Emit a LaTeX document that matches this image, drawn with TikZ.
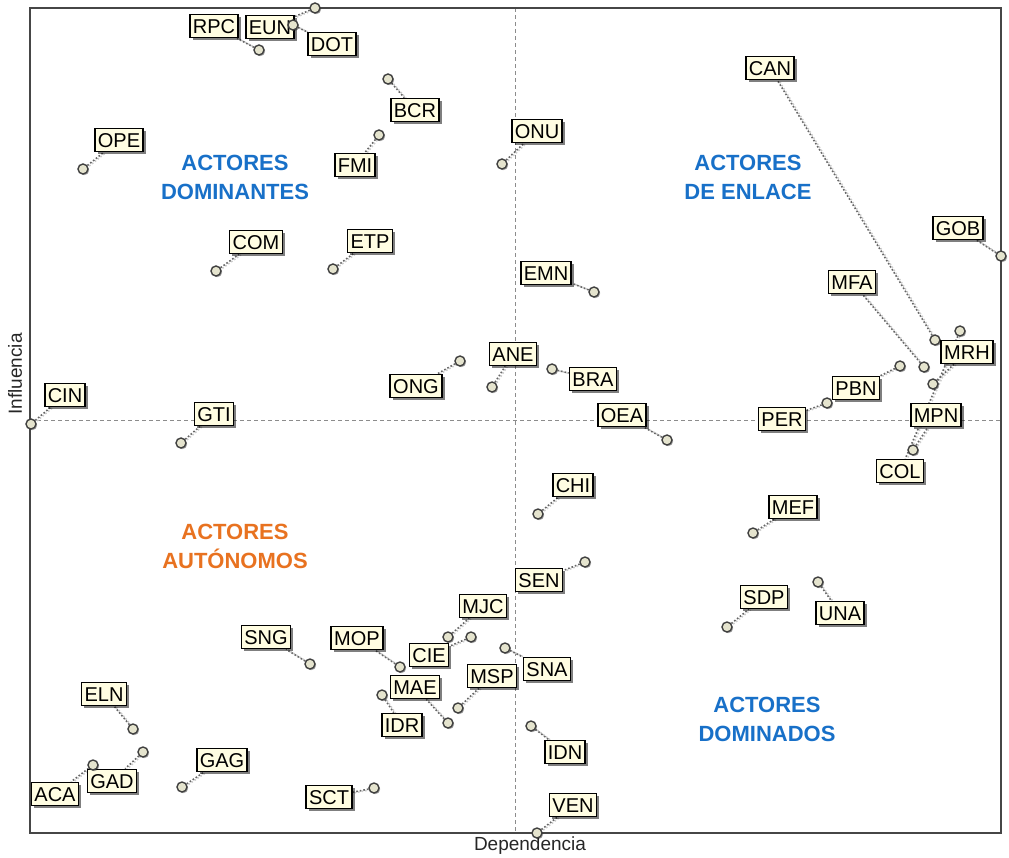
\documentclass[tikz,border=0pt]{standalone}
\usepackage{fontspec}
\setmainfont{Liberation Sans}
\usetikzlibrary{shadows}

\definecolor{cream}{RGB}{255,253,226}
\definecolor{zoneblue}{RGB}{24,112,200}
\definecolor{zoneorange}{RGB}{232,114,32}
\definecolor{framegray}{RGB}{70,70,70}

\pgfdeclarelayer{bg}
\pgfsetlayers{bg,main}

\tikzset{
  % ----- label of an actor
  actor/.style={
    draw=black, line width=0.8pt, fill=cream,
    inner xsep=1.5pt, inner ysep=1.75pt,
    text height=7.5pt, text depth=0.5pt,
    font=\fontsize{10}{12}\selectfont,
    drop shadow={shadow xshift=1.4pt, shadow yshift=-1.4pt, fill=black, opacity=0.5}
  },
  % ----- position of an actor
  spot/.style={
    circle, draw=black!75, line width=0.7pt, fill=cream!80!gray,
    inner sep=0pt, minimum size=5pt,
    drop shadow={shadow xshift=0.6pt, shadow yshift=-0.6pt, fill=black, opacity=0.35}
  },
  lead/.style = {densely dotted, line width=0.8pt, black!60,
    preaction={draw=black!20, densely dotted, line width=0.8pt,
      transform canvas={xshift=0.9pt, yshift=-0.3pt}}},
  axisline/.style = {dash pattern=on 2pt off 1.5pt, line width=0.5pt, black!45},
  zone/.style = {align=center, font=\fontsize{11}{14.5}\selectfont\bfseries},
  axislabel/.style = {font=\fontsize{9.5}{11}\selectfont, text=black!85}
}

\begin{document}
\begin{tikzpicture}[x=0.5pt, y=-0.5pt]
    \useasboundingbox (0,0) rectangle (1009,858);

    % frame and axes
    \draw[framegray, line width=1pt] (30,8) rectangle (1001,833);
    \begin{pgfonlayer}{bg}
        \draw[axisline] (515,8) -- (515,833);
        \draw[axisline] (30,420) -- (1001,420);
    \end{pgfonlayer}

    \node[axislabel, rotate=90] (infl) at (15,374) {Influencia};
    \node[axislabel] (dep) at (530,846) {Dependencia};

    % quadrants
    \node[zone, text=zoneblue] (dom) at (235,177) {ACTORES\\DOMINANTES};
    \node[zone, text=zoneblue] (enl) at (748,177) {ACTORES\\DE ENLACE};
    \node[zone, text=zoneorange] (aut) at (235,546) {ACTORES\\AUTÓNOMOS};
    \node[zone, text=zoneblue] (dmd) at (767,719) {ACTORES\\DOMINADOS};

    % actors: name / label x / label y / point x / point y
    \foreach \n/\x/\y/\px/\py in {
        RPC/214/26/259/50, EUN/270/27/315/8, DOT/332/44/293/25,
        OPE/119/140/83/169, COM/256/242/216/271, BCR/415/110/388/79,
        FMI/355/165/379/135, ONU/537/131/502/164, ETP/370/241/333/269,
        EMN/546/273/594/292, CAN/770/68/935/340, GOB/958/228/1001/256,
        MFA/852/282/924/367, COL/900/471/960/331, MRH/967/352/933/384,
        MPN/936/415/913/450, PBN/856/388/900/366, PER/782/419/827/403,
        CIN/65/395/31/424, GTI/214/414/181/443, ANE/513/354/492/387,
        ONG/416/386/460/361, BRA/593/379/552/369, OEA/622/415/667/440,
        CHI/573/485/538/514, MEF/793/507/753/533, SEN/539/580/585/562,
        SDP/764/597/727/627, UNA/840/613/818/582, MJC/483/606/448/637,
        CIE/429/655/471/637, MOP/357/638/400/667, SNG/266/637/310/664,
        MAE/415/687/448/723, IDR/402/725/382/695, MSP/492/676/458/708,
        SNA/547/669/505/648, IDN/565/752/531/726, VEN/573/805/537/833,
        SCT/329/797/374/788, ELN/104/694/133/729, GAD/112/781/143/752,
        ACA/55/794/93/765, GAG/222/760/182/787}{
        \node[spot] (p\n) at (\px,\py) {};
        \node[actor] (\n) at (\x,\y) {\n};
        \begin{pgfonlayer}{bg}
            \draw[lead] (p\n) -- (\n);
        \end{pgfonlayer}
    }
\end{tikzpicture}
\end{document}
